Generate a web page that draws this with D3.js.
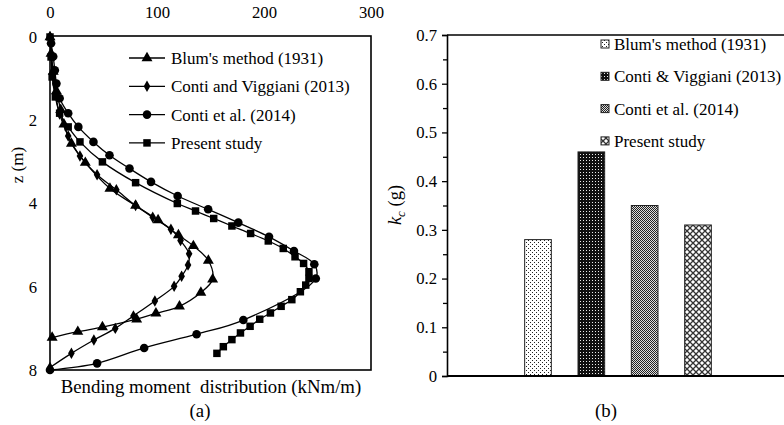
<!DOCTYPE html>
<html>
<head>
<meta charset="utf-8">
<script src="https://cdn.jsdelivr.net/npm/d3@7"></script>
<style>
  body { margin: 0; background: #fff; }
  svg text { font-family: "Liberation Serif", "Times New Roman", Times, "DejaVu Serif", serif; }
</style>
</head>
<body>
<svg id="chart" width="784" height="425" font-family="Liberation Serif, Times New Roman, serif"></svg>
<script>
// ---- panel (a): bending moment (kNm/m) vs depth z (m) ----
const blumPts = [[0, 0], [1, 0.4], [3, 0.83], [6, 1.3], [10, 1.75], [13, 2.1], [20, 2.56], [33, 3.02], [56, 3.64], [80, 4.05], [101, 4.4], [120, 4.76], [134, 5.02], [148, 5.37], [152, 5.82], [141, 6.14], [121, 6.47], [99, 6.64], [81, 6.78], [49, 6.97], [26, 7.08], [2, 7.22]];
const viggianiPts = [[0, 0], [1.5, 0.45], [3, 0.9], [5, 1.35], [9, 1.85], [17, 2.38], [28, 2.86], [44, 3.31], [62, 3.67], [80, 4.05], [96, 4.33], [113, 4.62], [122, 4.89], [130, 5.21], [129, 5.48], [123, 5.75], [116, 5.99], [98, 6.34], [78, 6.7], [61, 7.0], [41, 7.28], [20, 7.6], [0, 7.94]];
const contiPts = [[1, 0.15], [3, 0.47], [4.5, 0.8], [6, 1.12], [9, 1.47], [17, 1.83], [26.5, 2.16], [40.6, 2.52], [55.6, 2.84], [74.3, 3.16], [94.4, 3.48], [119.3, 3.82], [147.8, 4.14], [176, 4.46], [204.7, 4.8], [228, 5.14], [247, 5.46], [248.4, 5.8], [180.7, 6.8], [137, 7.14], [88, 7.47], [44, 7.84], [0, 8]];
const presentPts = [[0, 0], [1, 0.48], [2, 0.96], [5, 1.44], [9, 1.83], [17, 2.16], [28, 2.52], [49, 3.0], [80, 3.5], [119, 4.0], [136, 4.18], [153, 4.36], [170, 4.54], [187.5, 4.72], [204, 4.9], [218, 5.08], [229, 5.28], [237, 5.44], [242, 5.64], [242, 5.8], [239, 5.96], [234, 6.12], [226, 6.31], [216, 6.47], [206, 6.63], [196, 6.78], [187, 6.95], [178, 7.11], [170, 7.27], [162, 7.44], [156, 7.6]];
const momentTicks = [0, 100, 200, 300];
const depthTicks = [0, 2, 4, 6, 8];

// ---- panel (b): critical acceleration kc (g) ----
const methods = ["Blum's method (1931)", "Conti & Viggiani (2013)", "Conti et al. (2014)", "Present study"];
const kcValues = [0.28, 0.46, 0.35, 0.31];
const kcTicks = [0, 0.1, 0.2, 0.3, 0.4, 0.5, 0.6, 0.7];
const kcMinorTicks = [0.05, 0.15, 0.25, 0.35, 0.45, 0.55, 0.65];

const svg = d3.select("#chart");
const fontSize = 16.7;
const legendSize = 17;
const titleSize = 18.8;
const serif = "Liberation Serif, Times New Roman, serif";
const defs = svg.append("defs");

// hatch patterns like the Excel fills
function addPattern(id, w, h, draw) {
  const p = defs.append("pattern").attr("id", id)
    .attr("patternUnits", "userSpaceOnUse").attr("width", w).attr("height", h);
  draw(p);
}
addPattern("pat0", 4, 4, p => {
  p.append("rect").attr("width", 4).attr("height", 4).attr("fill", "#fff");
  p.append("rect").attr("width", 1).attr("height", 1).attr("fill", "#222");
  p.append("rect").attr("x", 2).attr("y", 2).attr("width", 1).attr("height", 1).attr("fill", "#222");
});
addPattern("pat1", 3, 3, p => {
  p.append("rect").attr("width", 3).attr("height", 3).attr("fill", "#111");
  p.append("rect").attr("x", 1).attr("y", 1).attr("width", 1).attr("height", 1).attr("fill", "#eee");
});
addPattern("pat2", 2, 2, p => {
  p.append("rect").attr("width", 2).attr("height", 2).attr("fill", "#ddd");
  p.append("rect").attr("width", 1).attr("height", 1).attr("fill", "#222");
  p.append("rect").attr("x", 1).attr("y", 1).attr("width", 1).attr("height", 1).attr("fill", "#222");
});
addPattern("pat3", 6, 6, p => {
  p.append("rect").attr("width", 6).attr("height", 6).attr("fill", "#fff");
  p.append("path").attr("d", "M0,0L6,6M6,0L0,6").attr("stroke", "#333").attr("stroke-width", 1.3);
});

function styleTicks(sel) {
  sel.attr("font-size", fontSize).attr("font-family", serif).attr("fill", "#000");
}

// ================= panel (a) =================
const x = d3.scaleLinear().domain([0, 300]).range([50, 371]);
const y = d3.scaleLinear().domain([0, 8]).range([37, 370]);

const gA = svg.append("g").attr("font-family", serif);

gA.append("g")
  .attr("transform", `translate(0,${y(0) - 1})`)
  .call(d3.axisTop(x).tickValues(momentTicks).tickSize(0).tickPadding(18))
  .call(g => g.attr("font-family", serif).select(".domain").remove())
  .selectAll("text").call(styleTicks);

gA.append("g")
  .attr("transform", `translate(${x(0)},0)`)
  .call(d3.axisLeft(y).tickValues(depthTicks).tickSize(0).tickPadding(13))
  .call(g => g.attr("font-family", serif).select(".domain").remove())
  .selectAll("text").call(styleTicks);

gA.append("rect")
  .attr("x", x(0)).attr("y", y(0) - 1)
  .attr("width", x(300) - x(0)).attr("height", y(8) - y(0) + 1)
  .attr("fill", "none").attr("stroke", "#000").attr("stroke-width", 1.6);

const line = d3.line().x(d => x(d[0])).y(d => y(d[1])).curve(d3.curveCatmullRom.alpha(0.5));

const seriesA = [
  { name: "Blum's method (1931)", pts: blumPts, sym: d3.symbolTriangle, size: 52 },
  { name: "Conti and Viggiani (2013)", pts: viggianiPts, sym: d3.symbolDiamond, size: 38 },
  { name: "Conti et al. (2014)", pts: contiPts, sym: d3.symbolCircle, size: 58 },
  { name: "Present study", pts: presentPts, sym: d3.symbolSquare, size: 56 }
];

seriesA.forEach(s => {
  gA.append("path").datum(s.pts)
    .attr("d", line).attr("fill", "none").attr("stroke", "#000").attr("stroke-width", 1.3);
  gA.selectAll(null).data(s.pts).join("path")
    .attr("transform", d => `translate(${x(d[0])},${y(d[1])})`)
    .attr("d", d3.symbol(s.sym, s.size)).attr("fill", "#000");
});

// legend (a)
const legA = gA.append("g");
seriesA.forEach((s, i) => {
  const ly = 58 + i * 28.3;
  legA.append("line").attr("x1", 129).attr("x2", 165).attr("y1", ly).attr("y2", ly)
    .attr("stroke", "#000").attr("stroke-width", 1.3);
  legA.append("path").attr("transform", `translate(147,${ly})`)
    .attr("d", d3.symbol(s.sym, s.size)).attr("fill", "#000");
  legA.append("text").attr("x", 171).attr("y", ly).attr("dy", "0.35em")
    .attr("font-size", legendSize).attr("font-family", serif).text(s.name);
});

gA.append("text").attr("transform", "translate(23,165) rotate(-90)")
  .attr("text-anchor", "middle").attr("font-size", 17).attr("font-family", serif).text("z (m)");
gA.append("text").attr("x", 211).attr("y", 386).attr("dy", "0.35em")
  .attr("text-anchor", "middle").attr("font-size", titleSize).attr("font-family", serif)
  .style("white-space", "pre").text("Bending moment  distribution (kNm/m)");
gA.append("text").attr("x", 200).attr("y", 410).attr("dy", "0.35em")
  .attr("text-anchor", "middle").attr("font-size", titleSize).attr("font-family", serif).text("(a)");

// ================= panel (b) =================
const yk = d3.scaleLinear().domain([0, 0.7]).range([376, 35]);
const xb = d3.scaleBand().domain(methods).range([498, 738]).padding(0.5);
const gB = svg.append("g").attr("font-family", serif);

gB.append("line").attr("x1", 447).attr("x2", 784).attr("y1", yk(0.7)).attr("y2", yk(0.7))
  .attr("stroke", "#000").attr("stroke-width", 1.6);

gB.selectAll("rect.bar").data(kcValues).join("rect")
  .attr("class", "bar")
  .attr("x", (d, i) => xb(methods[i]))
  .attr("y", d => yk(d))
  .attr("width", xb.bandwidth())
  .attr("height", d => yk(0) - yk(d))
  .attr("fill", (d, i) => `url(#pat${i})`)
  .attr("stroke", "#222").attr("stroke-width", 1);

gB.append("g")
  .attr("transform", "translate(447,0)")
  .call(d3.axisLeft(yk).tickValues(kcMinorTicks).tickSize(4).tickFormat(""))
  .call(g => g.select(".domain").remove())
  .selectAll("line").attr("stroke-width", 1.3);

gB.append("g")
  .attr("transform", "translate(447,0)")
  .call(d3.axisLeft(yk).tickValues(kcTicks).tickSize(5).tickPadding(5)
    .tickFormat(d => d === 0 ? "0" : d3.format(".1f")(d)))
  .call(g => g.attr("font-family", serif).select(".domain").attr("stroke-width", 1.6))
  .call(g => g.selectAll("line").attr("stroke-width", 1.3))
  .selectAll("text").call(styleTicks);

gB.append("line").attr("x1", 447).attr("x2", 784).attr("y1", yk(0)).attr("y2", yk(0))
  .attr("stroke", "#000").attr("stroke-width", 1.8);

// legend (b)
methods.forEach((m, i) => {
  const ly = 44 + i * 32.3;
  gB.append("rect").attr("x", 601).attr("y", ly - 4).attr("width", 8).attr("height", 8)
    .attr("fill", `url(#pat${i})`).attr("stroke", "#222").attr("stroke-width", 1);
  gB.append("text").attr("x", 614).attr("y", ly).attr("dy", "0.35em")
    .attr("font-size", legendSize).attr("font-family", serif).text(m);
});

const kLabel = gB.append("text").attr("transform", "translate(401,205) rotate(-90)")
  .attr("text-anchor", "middle").attr("font-size", 18.5).attr("font-family", serif);
kLabel.append("tspan").attr("font-style", "italic").text("k");
kLabel.append("tspan").attr("font-style", "italic").attr("font-size", 13).attr("dy", 4).text("c");
kLabel.append("tspan").attr("dy", -4).text(" (g)");

gB.append("text").attr("x", 606).attr("y", 410).attr("dy", "0.35em")
  .attr("text-anchor", "middle").attr("font-size", titleSize).attr("font-family", serif).text("(b)");
</script>
</body>
</html>
